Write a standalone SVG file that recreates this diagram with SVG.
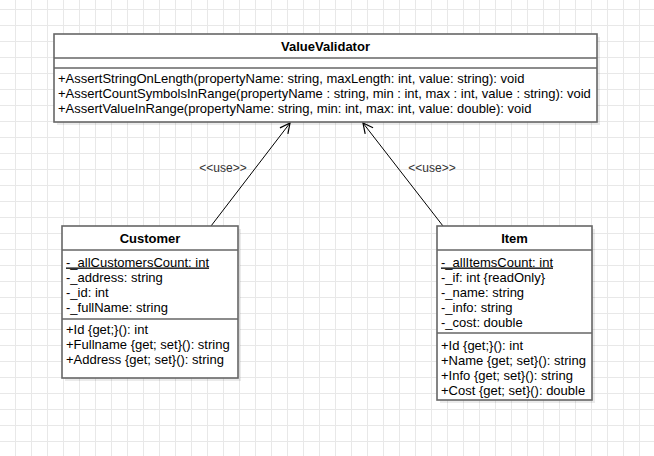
<svg xmlns="http://www.w3.org/2000/svg" width="654" height="456" viewBox="0 0 654 456">
<style>
text{font-family:"Liberation Sans",Arial,Helvetica,sans-serif;font-size:13px;fill:#000}
.t{font-weight:bold;text-anchor:middle}
.box{fill:#fff;stroke:#666;stroke-width:1.6}
.sh{fill:#000;fill-opacity:0.08}
.sep{stroke:#666;stroke-width:1.6}
.u{text-decoration:underline}
.con{stroke:#000;stroke-width:1;fill:none}
.lbl{font-size:12px;text-anchor:middle;fill:#333}
</style>
<defs>
<pattern id="grid" width="16" height="16" patternUnits="userSpaceOnUse" x="15" y="9">
<path d="M0 0.5H16M0.5 0V16" stroke="#e8e8e8" stroke-width="1" fill="none"/>
</pattern>
<marker id="open" viewBox="0 0 12 12" refX="11" refY="6" markerWidth="12" markerHeight="12" markerUnits="userSpaceOnUse" orient="auto">
<path d="M1 1L11 6L1 11" fill="none" stroke="#000" stroke-width="1.2"/>
</marker>
</defs>
<rect width="654" height="456" fill="#fff"/>
<rect width="654" height="456" fill="url(#grid)"/>

<g id="connectors">
<line class="con" x1="211" y1="226" x2="290" y2="123" marker-end="url(#open)"/>
<line class="con" x1="443" y1="226" x2="363" y2="123" marker-end="url(#open)"/>
<text class="lbl" x="223" y="172">&lt;&lt;use&gt;&gt;</text>
<text class="lbl" x="432" y="172">&lt;&lt;use&gt;&gt;</text>
</g>

<g id="ValueValidator">
<rect class="sh" x="57" y="37" width="543" height="88"/>
<rect class="box" x="54" y="34" width="543" height="88"/>
<line class="sep" x1="54" y1="58" x2="597" y2="58"/>
<line class="sep" x1="54" y1="68" x2="597" y2="68"/>
<text class="t" x="325.5" y="51">ValueValidator</text>
<text x="58" y="82.5">+AssertStringOnLength(propertyName: string, maxLength: int, value: string): void</text>
<text x="58" y="97.5">+AssertCountSymbolsInRange(propertyName : string, min : int, max : int, value : string): void</text>
<text x="58" y="112.5">+AssertValueInRange(propertyName: string, min: int, max: int, value: double): void</text>
</g>

<g id="Customer">
<rect class="sh" x="65" y="229" width="176" height="152"/>
<rect class="box" x="62" y="226" width="176" height="152"/>
<line class="sep" x1="62" y1="250" x2="238" y2="250"/>
<line class="sep" x1="62" y1="319" x2="238" y2="319"/>
<text class="t" x="150" y="243">Customer</text>
<text class="u" x="66" y="266.5">-_allCustomersCount: int</text>
<text x="66" y="281.5">-_address: string</text>
<text x="66" y="296.5">-_id: int</text>
<text x="66" y="311.5">-_fullName: string</text>
<text x="66" y="333.5">+Id {get;}(): int</text>
<text x="66" y="348.5">+Fullname {get; set}(): string</text>
<text x="66" y="363.5">+Address {get; set}(): string</text>
</g>

<g id="Item">
<rect class="sh" x="440" y="229" width="155" height="174"/>
<rect class="box" x="437" y="226" width="155" height="174"/>
<line class="sep" x1="437" y1="250" x2="592" y2="250"/>
<line class="sep" x1="437" y1="333" x2="592" y2="333"/>
<text class="t" x="514.5" y="243">Item</text>
<text class="u" x="441" y="266.5">-_allItemsCount: int</text>
<text x="441" y="281.5">-_if: int {readOnly}</text>
<text x="441" y="296.5">-_name: string</text>
<text x="441" y="311.5">-_info: string</text>
<text x="441" y="326.5">-_cost: double</text>
<text x="441" y="349.5">+Id {get;}(): int</text>
<text x="441" y="364.5">+Name {get; set}(): string</text>
<text x="441" y="379.5">+Info {get; set}(): string</text>
<text x="441" y="394.5">+Cost {get; set}(): double</text>
</g>
</svg>
